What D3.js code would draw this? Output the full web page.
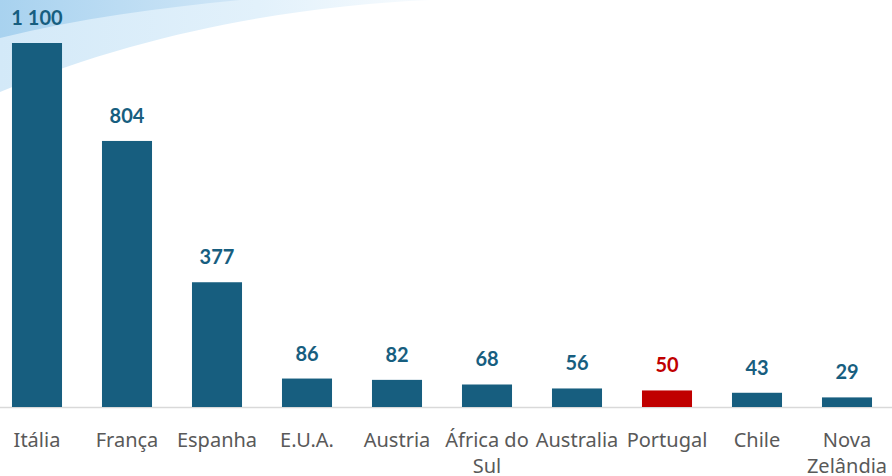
<!DOCTYPE html>
<html>
<head>
<meta charset="utf-8">
<script src="https://cdn.jsdelivr.net/npm/d3@7"></script>
<style>
  body { margin: 0; background: #fff; }
  svg { display: block; }
</style>
</head>
<body>
<script>
// dados
const paises = ['Itália', 'França', 'Espanha', 'E.U.A.', 'Austria', 'África do Sul', 'Australia', 'Portugal', 'Chile', 'Nova Zelândia'];
const valores = [1100, 804, 377, 86, 82, 68, 56, 50, 43, 29];
const rotulos = [['Itália'], ['França'], ['Espanha'], ['E.U.A.'], ['Austria'], ['África do', 'Sul'], ['Australia'], ['Portugal'], ['Chile'], ['Nova', 'Zelândia']];
const destaque = 'Portugal';

const WIDTH = 892;
const HEIGHT = 476;
const base = 407;

const svg = d3.select('body')
  .append('svg')
  .attr('width', WIDTH)
  .attr('height', HEIGHT);

// fundo azul claro no canto
const defs = svg.append('defs');
const grad = defs.append('linearGradient')
  .attr('id', 'onda')
  .attr('x1', '0').attr('y1', '0').attr('x2', '1').attr('y2', '0');
grad.append('stop').attr('offset', '0%').attr('stop-color', '#d3e9f8');
grad.append('stop').attr('offset', '60%').attr('stop-color', '#e2f1fb');
grad.append('stop').attr('offset', '100%').attr('stop-color', '#f7fbfe');

const grad2 = defs.append('linearGradient')
  .attr('id', 'onda2')
  .attr('x1', '0').attr('y1', '0').attr('x2', '1').attr('y2', '0');
grad2.append('stop').attr('offset', '0%').attr('stop-color', '#a8d2ef');
grad2.append('stop').attr('offset', '100%').attr('stop-color', '#cfe6f7');

svg.append('path')
  .attr('d', 'M0,0 L430,0 C300,6 150,30 0,92 Z')
  .attr('fill', 'url(#onda)');
svg.append('path')
  .attr('d', 'M0,0 L240,0 C160,8 80,18 0,38 Z')
  .attr('fill', 'url(#onda2)');

const x = d3.scaleBand()
  .domain(paises)
  .range([-8, 892])
  .paddingInner(0.444)
  .paddingOuter(0.222);

const y = d3.scaleLinear()
  .domain([0, 1100])
  .range([base, 43]);

// eixo x
svg.append('line')
  .attr('x1', 0).attr('x2', WIDTH)
  .attr('y1', base + 0.5).attr('y2', base + 0.5)
  .attr('stroke', '#d9d9d9')
  .attr('stroke-width', 1.5);

svg.selectAll('rect.barra')
  .data(valores)
  .enter()
  .append('rect')
  .attr('class', 'barra')
  .attr('x', (d, i) => x(paises[i]))
  .attr('width', x.bandwidth())
  .attr('y', d => y(d))
  .attr('height', d => base - y(d))
  .attr('fill', (d, i) => paises[i] === destaque ? '#c00000' : '#175e7f');

const fmt = d => d >= 1000 ? d3.format(',')(d).replace(',', ' ') : String(d);

svg.selectAll('text.valor')
  .data(valores)
  .enter()
  .append('text')
  .attr('class', 'valor')
  .attr('x', (d, i) => x(paises[i]) + x.bandwidth() / 2)
  .attr('y', d => y(d) - 18)
  .attr('text-anchor', 'middle')
  .attr('font-family', 'Lato, sans-serif')
  .attr('font-weight', 'bold')
  .attr('font-size', 20)
  .attr('fill', (d, i) => paises[i] === destaque ? '#c00000' : '#175e7f')
  .text(d => fmt(d));

const rot = svg.selectAll('text.pais')
  .data(rotulos)
  .enter()
  .append('text')
  .attr('class', 'pais')
  .attr('x', (d, i) => x(paises[i]) + x.bandwidth() / 2)
  .attr('y', 447)
  .attr('text-anchor', 'middle')
  .attr('font-family', '"Noto Sans", sans-serif')
  .attr('font-size', 20)
  .attr('fill', '#595959');

rot.selectAll('tspan')
  .data(d => d)
  .enter()
  .append('tspan')
  .attr('x', function() { return d3.select(this.parentNode).attr('x'); })
  .attr('dy', (d, i) => i === 0 ? 0 : 26)
  .text(d => d);
</script>
</body>
</html>
